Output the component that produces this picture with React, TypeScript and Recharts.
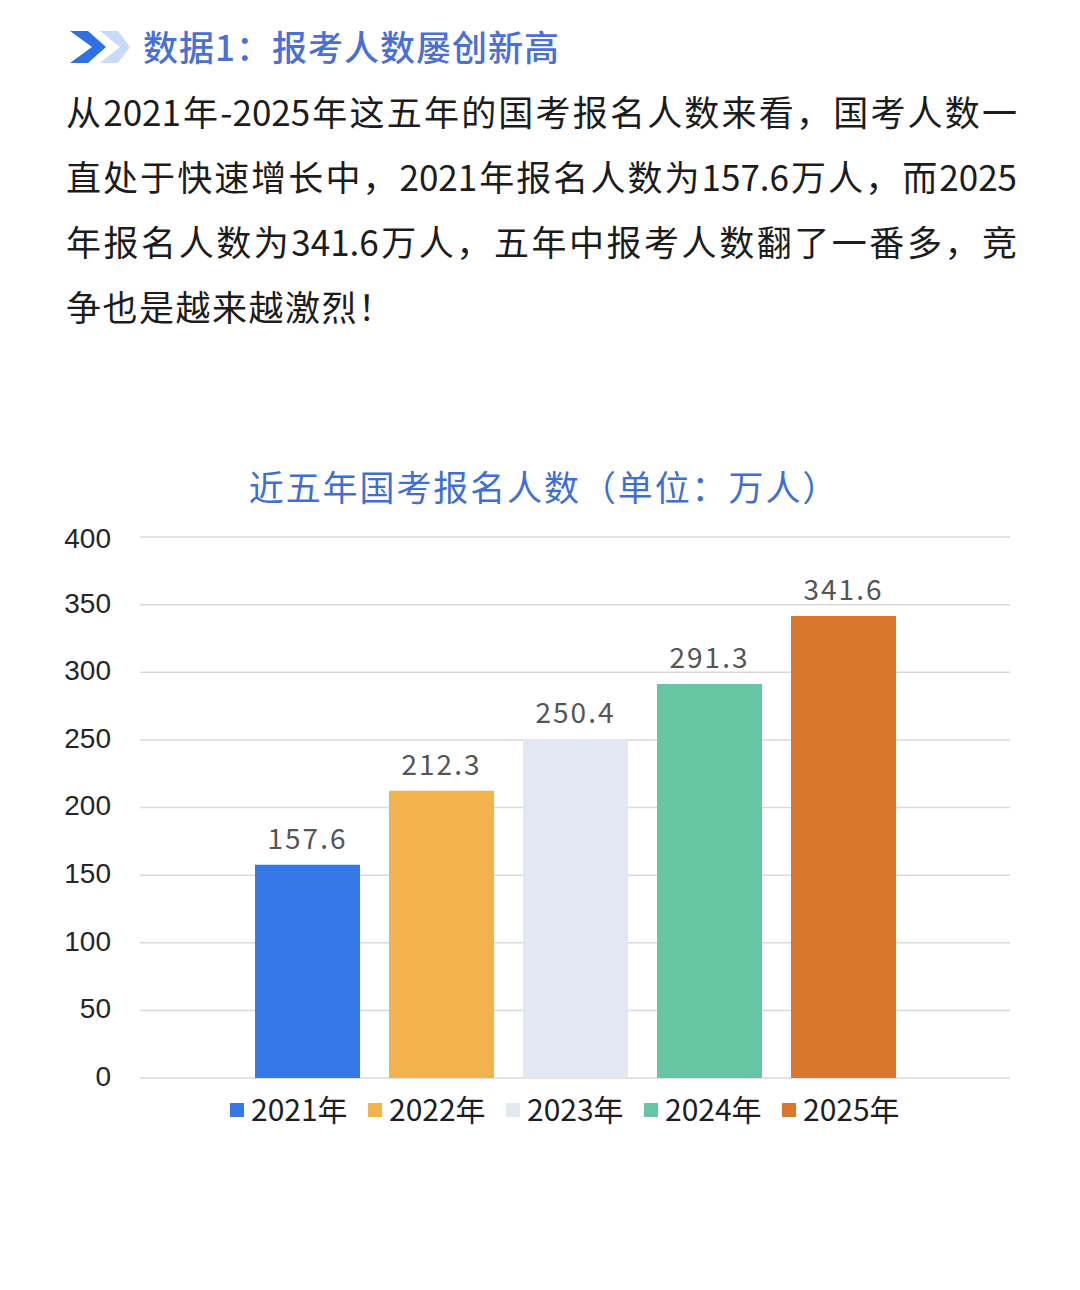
import React from 'react';
import { BarChart, Bar, XAxis, YAxis, CartesianGrid, Legend, LabelList } from 'recharts';

const years = ['2021年', '2022年', '2023年', '2024年', '2025年'];
const values = [157.6, 212.3, 250.4, 291.3, 341.6];
const colors = ['#3579e6', '#f2b24e', '#e1e7f3', '#66c6a4', '#d9772f'];
const yTicks = [0, 50, 100, 150, 200, 250, 300, 350, 400];

const headingText = '数据1：报考人数屡创新高';
const paragraphLines = [
  '从2021年-2025年这五年的国考报名人数来看，国考人数一',
  '直处于快速增长中，2021年报名人数为157.6万人，而2025',
  '年报名人数为341.6万人，五年中报考人数翻了一番多，竞',
  '争也是越来越激烈！',
];
const chartTitle = '近五年国考报名人数（单位：万人）';

const CJK = '"Noto Sans CJK SC", "Noto Sans", sans-serif';

const row: Record<string, string | number> = { name: '' };
years.forEach((y, i) => {
  row[y] = values[i];
});
const data = [row];

const LegendContent = () => (
  <div style={{ height: 50, boxSizing: 'border-box', paddingTop: 10, paddingLeft: 230, display: 'flex', alignItems: 'center' }}>
    {years.map((y, i) => (
      <div key={y} style={{ display: 'flex', alignItems: 'center', width: 138, flex: '0 0 138px', whiteSpace: 'nowrap' }}>
        <div style={{ width: 14, height: 14, background: colors[i], marginRight: 7, marginTop: 4, flex: '0 0 14px' }} />
        <span style={{ fontFamily: CJK, fontSize: 30, color: '#1e1e1e', lineHeight: '34px', whiteSpace: 'nowrap' }}>{y}</span>
      </div>
    ))}
  </div>
);

export default function App() {
  return (
    <div style={{ position: 'absolute', left: 0, top: 0, width: 1080, height: 1290, background: '#ffffff', overflow: 'hidden' }}>
      <svg style={{ position: 'absolute', left: 68, top: 29 }} width={64} height={36}>
        <polygon points="32,2 52,18 32,34 50,34 62,18 50,2" fill="#c9daf6" />
        <polygon points="2,2 24,18 2,34 20,34 38,18 20,2" fill="#2f70e2" />
      </svg>
      <div style={{ position: 'absolute', left: 143, top: 24, fontFamily: CJK, fontSize: 35, lineHeight: '44px', color: '#4a70d3', fontWeight: 500, letterSpacing: 1, whiteSpace: 'nowrap' }}>
        {headingText}
      </div>
      <div style={{ position: 'absolute', left: 66, top: 78, width: 951 }}>
        {paragraphLines.map((line, i) => (
          <div
            key={i}
            style={{
              fontFamily: CJK,
              fontSize: 35,
              lineHeight: '65px',
              color: '#1c1c1c',
              letterSpacing: i < paragraphLines.length - 1 ? 0 : 1.5,
              textAlign: i < paragraphLines.length - 1 ? 'justify' : 'left',
              textAlignLast: i < paragraphLines.length - 1 ? 'justify' : 'left',
              whiteSpace: 'nowrap',
            } as React.CSSProperties}
          >
            {line}
          </div>
        ))}
      </div>
      <div style={{ position: 'absolute', left: 0, width: 1088, top: 464, textAlign: 'center', fontFamily: CJK, fontSize: 35, lineHeight: '44px', color: '#3f6fd3', letterSpacing: 1.9, whiteSpace: 'nowrap' }}>
        {chartTitle}
      </div>
      <div style={{ position: 'absolute', left: 0, top: 520 }}>
        <BarChart width={1080} height={640} data={data} margin={{ top: 17, right: 70, left: 0, bottom: 32 }} barSize={105} barGap={29}>
          <CartesianGrid vertical={false} stroke="#d9d9d9" strokeWidth={1.5} />
          <XAxis dataKey="name" hide />
          <YAxis
            width={140}
            domain={[0, 400]}
            ticks={yTicks}
            axisLine={false}
            tickLine={false}
            tickMargin={23}
            tick={{ fontFamily: '"Liberation Sans", Arial, sans-serif', fontSize: 28, fill: '#262626', dy: -2 }}
          />
          <Legend verticalAlign="bottom" content={<LegendContent />} />
          {years.map((y, i) => (
            <Bar key={y} dataKey={y} fill={colors[i]} isAnimationActive={false}>
              <LabelList
                dataKey={y}
                position="top"
                offset={16}
                style={{ fontFamily: CJK, fontSize: 28, fill: '#555555', letterSpacing: 2 }}
              />
            </Bar>
          ))}
        </BarChart>
      </div>
    </div>
  );
}
